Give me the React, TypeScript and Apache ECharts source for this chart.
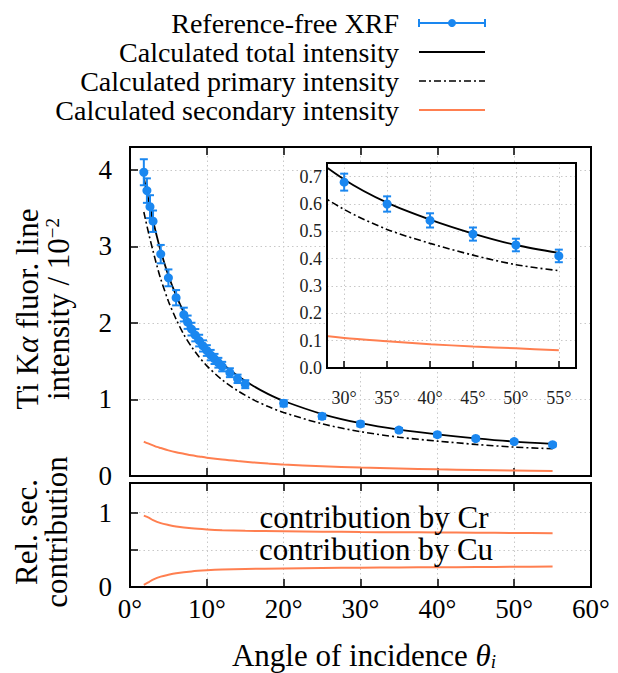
import React, { useEffect, useRef } from "react";
import * as echarts from "echarts";

// ---------- data ----------
const thetaMeasured = [1.8, 2.2, 2.6, 3.0, 4, 5, 6, 7, 7.5, 8, 8.5, 9, 9.5, 10, 10.5, 11, 11.5, 12, 13, 14, 15, 20, 25, 30, 35, 40, 45, 50, 55];
const intensityMeasured = [3.97, 3.73, 3.52, 3.33, 2.9, 2.59, 2.33, 2.11, 2.01, 1.92, 1.84, 1.77, 1.7, 1.64, 1.58, 1.53, 1.48, 1.43, 1.35, 1.27, 1.2, 0.95, 0.78, 0.68, 0.6, 0.54, 0.49, 0.45, 0.41];
const intensityUncertainty = [0.17, 0.16, 0.15, 0.14, 0.12, 0.11, 0.1, 0.09, 0.087, 0.083, 0.08, 0.076, 0.073, 0.07, 0.068, 0.066, 0.064, 0.062, 0.058, 0.055, 0.052, 0.041, 0.034, 0.031, 0.028, 0.026, 0.024, 0.023, 0.023];

const thetaCalc = [1.8, 2, 2.5, 3, 3.5, 4, 5, 6, 7, 8, 9, 10, 12, 14, 16, 18, 20, 25, 30, 35, 40, 45, 50, 55];
const totalCalc = [3.9, 3.8, 3.56, 3.34, 3.13, 2.94, 2.62, 2.36, 2.14, 1.96, 1.81, 1.68, 1.47, 1.31, 1.18, 1.07, 0.98, 0.81, 0.69, 0.605, 0.543, 0.492, 0.45, 0.421];
const primaryCalc = [3.45, 3.36, 3.14, 2.94, 2.75, 2.575, 2.285, 2.05, 1.85, 1.69, 1.555, 1.44, 1.255, 1.115, 1.0, 0.907, 0.83, 0.682, 0.58, 0.507, 0.456, 0.413, 0.378, 0.356];
const secondaryCalc = [0.45, 0.44, 0.42, 0.4, 0.38, 0.365, 0.335, 0.31, 0.29, 0.27, 0.255, 0.24, 0.215, 0.195, 0.178, 0.163, 0.15, 0.128, 0.11, 0.098, 0.087, 0.079, 0.072, 0.065];

const thetaContrib = [1.8, 2.5, 3, 4, 5, 6, 8, 10, 12, 15, 20, 25, 30, 35, 40, 45, 50, 55];
const contribCr = [0.96, 0.93, 0.9, 0.86, 0.835, 0.815, 0.79, 0.775, 0.765, 0.757, 0.75, 0.745, 0.74, 0.737, 0.734, 0.731, 0.728, 0.725];
const contribCu = [0.03, 0.07, 0.1, 0.14, 0.165, 0.185, 0.21, 0.225, 0.235, 0.243, 0.25, 0.255, 0.26, 0.263, 0.266, 0.269, 0.272, 0.275];

const legendLabels = ["Reference-free XRF", "Calculated total intensity", "Calculated primary intensity", "Calculated secondary intensity"];

// ---------- style ----------
const FONT = "'Liberation Serif', 'DejaVu Serif', serif";
const BLUE = "#1a87f0";
const CORAL = "#ff7f50";
const DASHDOT = [7, 3, 2, 3];
const GRIDLINE = { show: true, showMinLine: false, showMaxLine: false, lineStyle: { type: [1.5, 3], color: "#c8c8c8", width: 1 } };
const SMOOTH = 0.3;

const MAIN = { left: 130, top: 147, width: 461, height: 329 };
const BOT = { left: 130, top: 483, width: 461, height: 104 };
const INSET = { left: 327, top: 163, width: 249, height: 205 };

const pairs = (xs: number[], ys: number[]) => xs.map((x, i) => [x, ys[i]]);
const measuredPts = thetaMeasured.map((x, i) => [x, intensityMeasured[i], intensityUncertainty[i]]);
const insetPts = measuredPts.filter((d) => d[0] >= 28);

const errRender = (params: any, api: any) => {
  const x = api.value(0), y = api.value(1), e = api.value(2);
  const t = api.coord([x, y + e]);
  const b = api.coord([x, y - e]);
  const w = 4;
  const st = { stroke: BLUE, lineWidth: 2 };
  return {
    type: "group",
    children: [
      { type: "line", shape: { x1: t[0], y1: t[1], x2: b[0], y2: b[1] }, style: st },
      { type: "line", shape: { x1: t[0] - w, y1: t[1], x2: t[0] + w, y2: t[1] }, style: st },
      { type: "line", shape: { x1: b[0] - w, y1: b[1], x2: b[0] + w, y2: b[1] }, style: st },
    ],
  };
};

const tickIn = (len = 8) => ({ show: true, inside: true, length: len, lineStyle: { color: "#000", width: 1.5 } });

function buildOption() {
  const legendY = [23, 52, 81, 110];
  const legendGraphics: any[] = [];
  legendLabels.forEach((t, i) => {
    legendGraphics.push({ type: "text", x: 399, y: legendY[i], style: { text: t, fontFamily: FONT, fontSize: 28, fill: "#000", align: "right", verticalAlign: "middle" } });
  });
  legendGraphics.push(
    { type: "line", shape: { x1: 419, y1: legendY[0], x2: 485, y2: legendY[0] }, style: { stroke: BLUE, lineWidth: 2 } },
    { type: "line", shape: { x1: 419, y1: legendY[0] - 4, x2: 419, y2: legendY[0] + 4 }, style: { stroke: BLUE, lineWidth: 2 } },
    { type: "line", shape: { x1: 485, y1: legendY[0] - 4, x2: 485, y2: legendY[0] + 4 }, style: { stroke: BLUE, lineWidth: 2 } },
    { type: "circle", shape: { cx: 452, cy: legendY[0], r: 4 }, style: { fill: BLUE } },
    { type: "line", shape: { x1: 419, y1: legendY[1], x2: 485, y2: legendY[1] }, style: { stroke: "#000", lineWidth: 2 } },
    { type: "line", shape: { x1: 419, y1: legendY[2], x2: 485, y2: legendY[2] }, style: { stroke: "#000", lineWidth: 1.6, lineDash: DASHDOT } },
    { type: "line", shape: { x1: 419, y1: legendY[3], x2: 485, y2: legendY[3] }, style: { stroke: CORAL, lineWidth: 2 } }
  );

  const textBase = { fontFamily: FONT, fontSize: 31, fill: "#000", align: "center", verticalAlign: "middle" };

  const graphics: any[] = [
    ...legendGraphics,
    { type: "rect", z: 5, shape: { x: INSET.left, y: INSET.top, width: INSET.width, height: INSET.height }, style: { fill: "#fff" } },
    { type: "rect", z: 20, shape: { x: MAIN.left, y: MAIN.top, width: MAIN.width, height: MAIN.height }, style: { fill: "none", stroke: "#000", lineWidth: 2 } },
    { type: "rect", z: 20, shape: { x: BOT.left, y: BOT.top, width: BOT.width, height: BOT.height }, style: { fill: "none", stroke: "#000", lineWidth: 2 } },
    { type: "rect", z: 20, shape: { x: INSET.left, y: INSET.top, width: INSET.width, height: INSET.height }, style: { fill: "none", stroke: "#000", lineWidth: 2 } },
    { type: "text", x: 27, y: 309, rotation: Math.PI / 2, style: { ...textBase, text: "Ti K{it|α} fluor. line", rich: { it: { fontFamily: FONT, fontSize: 31, fontStyle: "italic" } } } },
    { type: "text", x: 58, y: 309, rotation: Math.PI / 2, style: { ...textBase, text: "intensity / 10{sup|−2}", rich: { sup: { fontFamily: FONT, fontSize: 19, verticalAlign: "top" } } } },
    { type: "text", x: 26, y: 532, rotation: Math.PI / 2, style: { ...textBase, text: "Rel. sec." } },
    { type: "text", x: 56, y: 532, rotation: Math.PI / 2, style: { ...textBase, text: "contribution" } },
    { type: "text", x: 364, y: 655, style: { ...textBase, text: "Angle of incidence {it|θ}{sub|i}", rich: { it: { fontFamily: FONT, fontSize: 31, fontStyle: "italic" }, sub: { fontFamily: FONT, fontSize: 19, fontStyle: "italic", verticalAlign: "bottom" } } } },
    { type: "text", x: 374, y: 517, z: 10, style: { ...textBase, text: "contribution by Cr" } },
    { type: "text", x: 376, y: 549, z: 10, style: { ...textBase, text: "contribution by Cu" } },
  ];

  const bigLabel = { fontFamily: FONT, fontSize: 27, color: "#000" };
  const smallLabel = { fontFamily: FONT, fontSize: 18, color: "#222" };

  return {
    animation: false,
    backgroundColor: "#fff",
    textStyle: { fontFamily: FONT },
    grid: [
      { ...MAIN, containLabel: false },
      { ...BOT, containLabel: false },
      { ...INSET, containLabel: false },
    ],
    xAxis: [
      { gridIndex: 0, type: "value", min: 0, max: 60, interval: 10, position: "bottom", z: 0, axisLine: { show: false }, axisTick: tickIn(), axisLabel: { show: false }, splitLine: GRIDLINE },
      { gridIndex: 0, type: "value", min: 0, max: 60, interval: 10, position: "top", z: 0, axisLine: { show: false }, axisTick: tickIn(), axisLabel: { show: false }, splitLine: { show: false } },
      { gridIndex: 1, type: "value", min: 0, max: 60, interval: 10, position: "bottom", z: 0, axisLine: { show: false }, axisTick: tickIn(), axisLabel: { ...bigLabel, margin: 8, formatter: "{value}°" }, splitLine: GRIDLINE },
      { gridIndex: 1, type: "value", min: 0, max: 60, interval: 10, position: "top", z: 0, axisLine: { show: false }, axisTick: tickIn(), axisLabel: { show: false }, splitLine: { show: false } },
      { gridIndex: 2, type: "value", min: 28, max: 57, minInterval: 5, maxInterval: 5, position: "bottom", z: 6, axisLine: { show: false }, axisTick: tickIn(7), axisLabel: { ...smallLabel, margin: 21, formatter: "{value}°", showMinLabel: false, showMaxLabel: false }, splitLine: GRIDLINE },
    ],
    yAxis: [
      { gridIndex: 0, type: "value", min: 0, max: 4.3, interval: 1, z: 0, axisLine: { show: false }, axisTick: tickIn(), axisLabel: { ...bigLabel, margin: 18, showMaxLabel: false }, splitLine: GRIDLINE },
      { gridIndex: 1, type: "value", min: 0, max: 1.4, interval: 0.5, z: 0, axisLine: { show: false }, axisTick: tickIn(), axisLabel: { ...bigLabel, margin: 18, showMaxLabel: false, formatter: (v: number) => (v === 0 || v === 1 ? String(v) : "") }, splitLine: GRIDLINE },
      { gridIndex: 2, type: "value", min: 0, max: 0.75, interval: 0.1, z: 6, axisLine: { show: false }, axisTick: { show: false }, axisLabel: { ...smallLabel, margin: 5, showMaxLabel: false, formatter: (v: number) => v.toFixed(1) }, splitLine: GRIDLINE },
    ],
    graphic: { elements: graphics },
    series: [
      { name: legendLabels[1], type: "line", xAxisIndex: 0, yAxisIndex: 0, data: pairs(thetaCalc, totalCalc), showSymbol: false, smooth: SMOOTH, lineStyle: { color: "#000", width: 1.8 }, z: 2 },
      { name: legendLabels[2], type: "line", xAxisIndex: 0, yAxisIndex: 0, data: pairs(thetaCalc, primaryCalc), showSymbol: false, smooth: SMOOTH, lineStyle: { color: "#000", width: 1.6, type: DASHDOT }, z: 2 },
      { name: legendLabels[3], type: "line", xAxisIndex: 0, yAxisIndex: 0, data: pairs(thetaCalc, secondaryCalc), showSymbol: false, smooth: SMOOTH, lineStyle: { color: CORAL, width: 2 }, z: 2 },
      { name: legendLabels[0] + " err", type: "custom", xAxisIndex: 0, yAxisIndex: 0, data: measuredPts, renderItem: errRender, z: 3 },
      { name: legendLabels[0], type: "scatter", xAxisIndex: 0, yAxisIndex: 0, data: measuredPts.map((d) => [d[0], d[1]]), symbolSize: 9, itemStyle: { color: BLUE, opacity: 1 }, z: 4 },
      { name: "Cr", type: "line", xAxisIndex: 2, yAxisIndex: 1, data: pairs(thetaContrib, contribCr), showSymbol: false, smooth: SMOOTH, lineStyle: { color: CORAL, width: 2 }, z: 2 },
      { name: "Cu", type: "line", xAxisIndex: 2, yAxisIndex: 1, data: pairs(thetaContrib, contribCu), showSymbol: false, smooth: SMOOTH, lineStyle: { color: CORAL, width: 2 }, z: 2 },
      { name: "inset total", type: "line", xAxisIndex: 4, yAxisIndex: 2, data: pairs(thetaCalc, totalCalc), showSymbol: false, smooth: SMOOTH, clip: true, lineStyle: { color: "#000", width: 1.8 }, z: 7 },
      { name: "inset primary", type: "line", xAxisIndex: 4, yAxisIndex: 2, data: pairs(thetaCalc, primaryCalc), showSymbol: false, smooth: SMOOTH, clip: true, lineStyle: { color: "#000", width: 1.6, type: DASHDOT }, z: 7 },
      { name: "inset secondary", type: "line", xAxisIndex: 4, yAxisIndex: 2, data: pairs(thetaCalc, secondaryCalc), showSymbol: false, smooth: SMOOTH, clip: true, lineStyle: { color: CORAL, width: 2 }, z: 7 },
      { name: "inset err", type: "custom", xAxisIndex: 4, yAxisIndex: 2, data: insetPts, renderItem: errRender, z: 8 },
      { name: "inset points", type: "scatter", xAxisIndex: 4, yAxisIndex: 2, data: insetPts.map((d) => [d[0], d[1]]), symbolSize: 9, itemStyle: { color: BLUE, opacity: 1 }, z: 9 },
    ],
  };
}

export default function App() {
  const ref = useRef<HTMLDivElement>(null);
  useEffect(() => {
    if (!ref.current) return;
    const chart = echarts.init(ref.current, null, { renderer: "svg" });
    chart.setOption(buildOption() as any);
    return () => chart.dispose();
  }, []);
  return <div ref={ref} style={{ width: 618, height: 673, position: "absolute", left: 0, top: 0 }} />;
}
